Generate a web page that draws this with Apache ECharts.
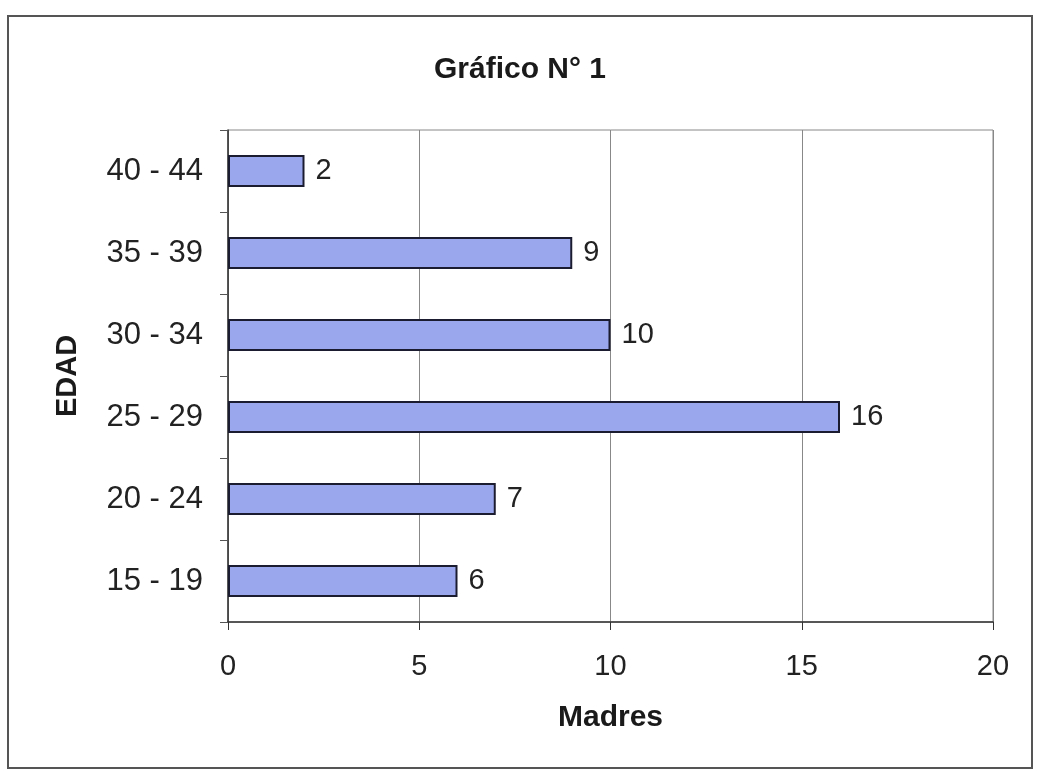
<!DOCTYPE html>
<html>
<head>
<meta charset="utf-8">
<script src="https://cdn.jsdelivr.net/npm/echarts@6/dist/echarts.min.js"></script>
<style>
  html, body { margin: 0; padding: 0; background: #fff; }
  #chart { width: 1040px; height: 773px; }
</style>
</head>
<body>
<div id="chart"></div>
<script>
const ageGroups = ['15 - 19', '20 - 24', '25 - 29', '30 - 34', '35 - 39', '40 - 44'];
const mothers = [6, 7, 16, 10, 9, 2];
const xTicks = [0, 5, 10, 15, 20];

const chart = echarts.init(document.getElementById('chart'));
const font = '"Liberation Sans", Arial, sans-serif';

chart.setOption({
  backgroundColor: '#fff',
  textStyle: { fontFamily: font },
  graphic: [{
    type: 'rect',
    shape: { x: 8, y: 16, width: 1024, height: 752 },
    style: { fill: 'none', stroke: '#555', lineWidth: 2 },
    silent: true
  }],
  title: {
    text: 'Gráfico N° 1',
    left: 'center',
    top: 55,
    padding: 0,
    textStyle: { fontFamily: font, fontSize: 30, fontWeight: 'bold', color: '#1a1a1a' }
  },
  grid: {
    left: 228, right: 47, top: 130, bottom: 151,
    show: true, borderColor: '#888', borderWidth: 1
  },
  xAxis: {
    type: 'value',
    min: xTicks[0],
    max: xTicks[xTicks.length - 1],
    interval: xTicks[1] - xTicks[0],
    name: 'Madres',
    nameLocation: 'middle',
    nameGap: 81,
    nameTextStyle: { fontFamily: font, fontSize: 30, fontWeight: 'bold', color: '#1a1a1a' },
    axisLine: { show: true, lineStyle: { color: '#333', width: 1.5 } },
    axisTick: { show: true, length: 8, lineStyle: { color: '#333' } },
    axisLabel: { fontFamily: font, fontSize: 29, color: '#222', margin: 30 },
    splitLine: { show: true, lineStyle: { color: '#888', width: 1 } }
  },
  yAxis: {
    type: 'category',
    data: ageGroups,
    name: 'EDAD',
    nameLocation: 'middle',
    nameGap: 146,
    nameRotate: 90,
    nameTextStyle: { fontFamily: font, fontSize: 29, fontWeight: 'bold', color: '#1a1a1a' },
    axisLine: { show: true, lineStyle: { color: '#333', width: 1.5 } },
    axisTick: { show: true, length: 8, lineStyle: { color: '#555' } },
    axisLabel: { fontFamily: font, fontSize: 31, color: '#222', margin: 25 },
    splitLine: { show: false }
  },
  series: [{
    type: 'bar',
    data: mothers,
    barWidth: 32,
    itemStyle: { color: '#9ba7ec', borderColor: '#1c1c30', borderWidth: 2 },
    label: {
      show: true,
      position: 'right',
      distance: 11,
      fontFamily: font,
      fontSize: 29,
      color: '#222'
    },
    animation: false
  }]
});
</script>
</body>
</html>
